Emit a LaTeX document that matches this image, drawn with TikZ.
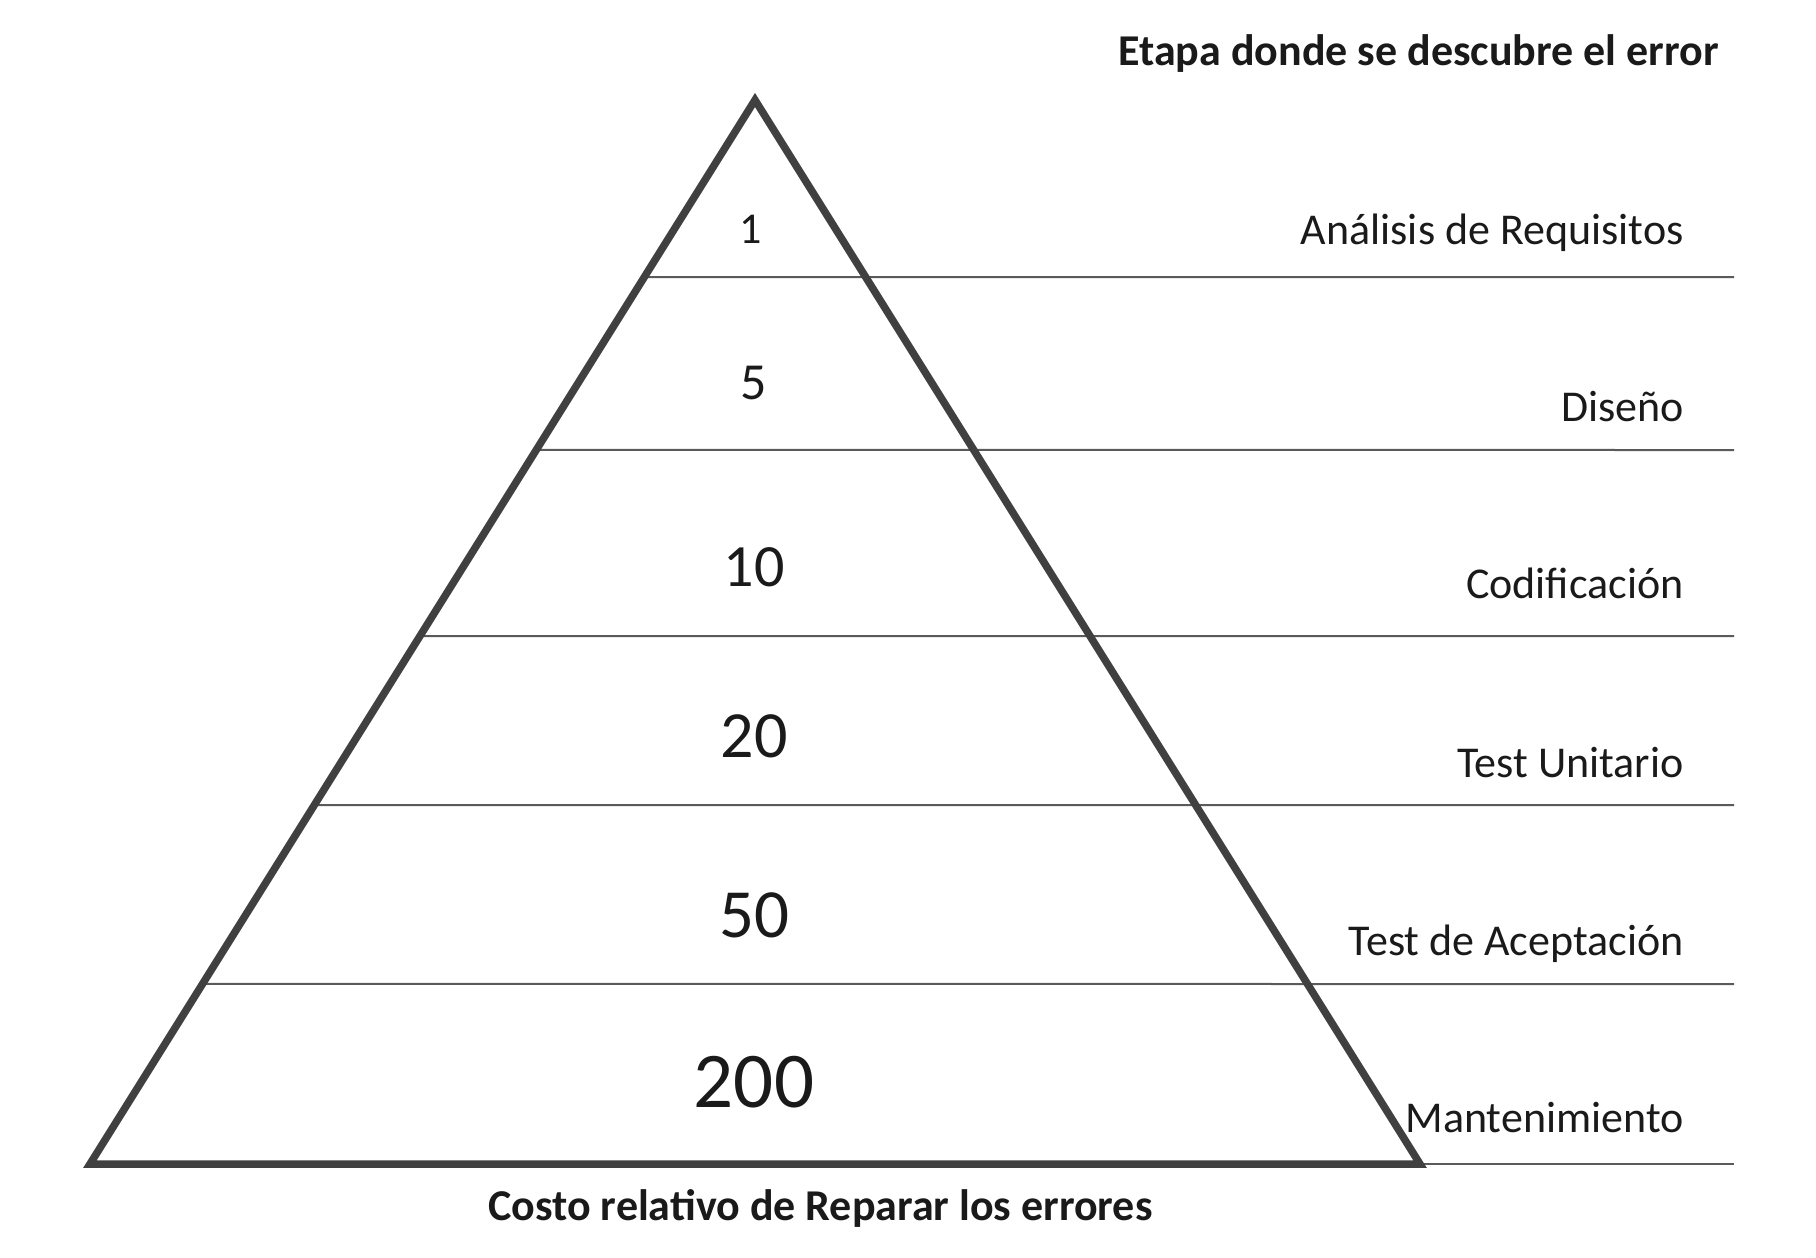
\documentclass[tikz,border=0pt]{standalone}
\usepackage{fontspec}
\setmainfont{Carlito}
\usetikzlibrary{calc}
\definecolor{tri}{HTML}{404040}
\definecolor{ln}{HTML}{5A5A5A}
\definecolor{txt}{HTML}{1A1A1A}
\tikzset{
  tristroke/.style={draw=tri,line width=3.75pt,line join=miter},
  levelline/.style={draw=ln,line width=1pt},
  stagelbl/.style={anchor=base east,inner sep=0pt,text=txt,font=\fontsize{22}{26}\selectfont},
  costlbl/.style={anchor=base,inner sep=0pt,text=txt},
  headlbl/.style={inner sep=0pt,text=txt,font=\fontsize{22}{26}\selectfont\bfseries}
}
\begin{document}
\begin{tikzpicture}[x=0.5pt,y=-0.5pt]
\useasboundingbox[fill=white] (0,0) rectangle (1816,1258);
\coordinate (apex) at (755,100);
\coordinate (bl) at (90,1164);
\coordinate (br) at (1420,1164);
% level lines
\foreach \n/\t/\y in {a/0.1664/277, b/0.3289/450, c/0.5038/636, d/0.6626/805, e/0.8308/984}{
  \coordinate (L\n) at ($(apex)!\t!(bl)$);
  \coordinate (R\n) at (1734,\y);
  \draw[levelline] (L\n) -- (R\n);
}
\coordinate (Rf) at (1734,1164);
\draw[levelline] (br) -- (Rf);
% triangle
\draw[tristroke] (apex) -- (br) -- (bl) -- cycle;
% costs
\node[costlbl,font=\fontsize{22}{26}\selectfont] (c1) at (751,243) {1};
\node[costlbl,font=\fontsize{26}{30}\selectfont] (c5) at (754,399) {5};
\node[costlbl,font=\fontsize{30}{36}\selectfont] (c10) at (754,586) {10};
\node[costlbl,font=\fontsize{33}{40}\selectfont] (c20) at (754,757) {20};
\node[costlbl,font=\fontsize{34.5}{42}\selectfont] (c50) at (754,937) {50};
\node[costlbl,font=\fontsize{39.5}{48}\selectfont] (c200) at (754,1107) {200};
% stages
\node[stagelbl] (s1) at (1684,244) {Análisis de Requisitos};
\node[stagelbl] (s2) at (1684,421) {Diseño};
\node[stagelbl] (s3) at (1684,598) {Codificación};
\node[stagelbl] (s4) at (1684,777) {Test Unitario};
\node[stagelbl] (s5) at (1684,955) {Test de Aceptación};
\node[stagelbl] (s6) at (1684,1132) {Mantenimiento};
% headings
\node[headlbl,anchor=base east] (head) at (1719,65) {Etapa donde se descubre el error};
\node[headlbl,anchor=base west] (foot) at (488,1220) {Costo relativo de Reparar los errores};
\end{tikzpicture}
\end{document}
